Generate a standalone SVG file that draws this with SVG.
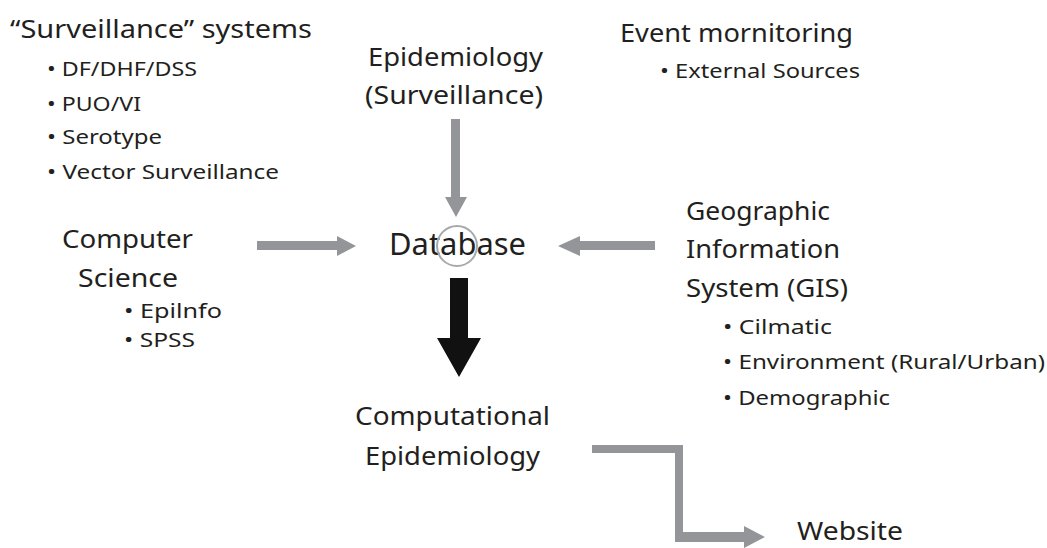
<svg xmlns="http://www.w3.org/2000/svg" width="1047" height="548" viewBox="0 0 1047 548">
<style>
text{font-family:"Noto Sans","Open Sans","Liberation Sans",sans-serif;fill:#231f20}
.h{font-size:26px}
.b{font-size:20px}
.db{font-size:30px}
.g{fill:#939598}
.k{fill:#111111}
</style>
<rect width="1047" height="548" fill="#ffffff"/>
<g id="surveillance-systems">
<text class="h" x="10" y="38" textLength="302" lengthAdjust="spacingAndGlyphs">“Surveillance” systems</text>
<text class="b" x="47" y="76" textLength="150" lengthAdjust="spacingAndGlyphs">• DF/DHF/DSS</text>
<text class="b" x="47" y="111" textLength="94" lengthAdjust="spacingAndGlyphs">• PUO/VI</text>
<text class="b" x="47" y="144" textLength="115" lengthAdjust="spacingAndGlyphs">• Serotype</text>
<text class="b" x="47" y="179" textLength="232" lengthAdjust="spacingAndGlyphs">• Vector Surveillance</text>
</g>
<g id="epidemiology">
<text class="h" x="368" y="66" textLength="175" lengthAdjust="spacingAndGlyphs">Epidemiology</text>
<text class="h" x="365" y="104" textLength="178" lengthAdjust="spacingAndGlyphs">(Surveillance)</text>
</g>
<g id="event-monitoring">
<text class="h" x="620" y="42" textLength="233" lengthAdjust="spacingAndGlyphs">Event mornitoring</text>
<text class="b" x="660" y="78" textLength="200" lengthAdjust="spacingAndGlyphs">• External Sources</text>
</g>
<g id="computer-science">
<text class="h" x="62" y="248" textLength="131" lengthAdjust="spacingAndGlyphs">Computer</text>
<text class="h" x="78" y="287" textLength="100" lengthAdjust="spacingAndGlyphs">Science</text>
<text class="b" x="124" y="318" textLength="98" lengthAdjust="spacingAndGlyphs">• Epilnfo</text>
<text class="b" x="124" y="347" textLength="71" lengthAdjust="spacingAndGlyphs">• SPSS</text>
</g>
<g id="database">
<text class="db" x="389" y="255" textLength="137" lengthAdjust="spacingAndGlyphs">Database</text>
<circle cx="457" cy="246" r="20" fill="none" stroke="#a7a9ac" stroke-width="2"/>
</g>
<g id="gis">
<text class="h" x="686" y="220" textLength="144" lengthAdjust="spacingAndGlyphs">Geographic</text>
<text class="h" x="686" y="258" textLength="154" lengthAdjust="spacingAndGlyphs">Information</text>
<text class="h" x="686" y="297" textLength="162" lengthAdjust="spacingAndGlyphs">System (GIS)</text>
<text class="b" x="723" y="334" textLength="109" lengthAdjust="spacingAndGlyphs">• Cilmatic</text>
<text class="b" x="723" y="369" textLength="322" lengthAdjust="spacingAndGlyphs">• Environment (Rural/Urban)</text>
<text class="b" x="723" y="405" textLength="167" lengthAdjust="spacingAndGlyphs">• Demographic</text>
</g>
<g id="computational-epidemiology">
<text class="h" x="355" y="425" textLength="195" lengthAdjust="spacingAndGlyphs">Computational</text>
<text class="h" x="365" y="465" textLength="175" lengthAdjust="spacingAndGlyphs">Epidemiology</text>
</g>
<g id="website">
<text class="h" x="797" y="540" textLength="106" lengthAdjust="spacingAndGlyphs">Website</text>
</g>
<g id="connectors">
<polygon class="g" points="451,119 460,119 460,197 467,197 456,217 445,197 451,197"/>
<polygon class="g" points="257,241 337,241 337,236 356,246 337,256 337,250 257,250"/>
<polygon class="g" points="655,241 580,241 580,236 558,246 580,256 580,250 655,250"/>
<polygon class="k" points="450,278 468,278 468,338 481,338 459,377 437,338 450,338"/>
<polygon class="g" points="592,445 683,445 683,532 744,532 744,526 765,537 744,548 744,542 675,542 675,453 592,453"/>
</g>
</svg>
